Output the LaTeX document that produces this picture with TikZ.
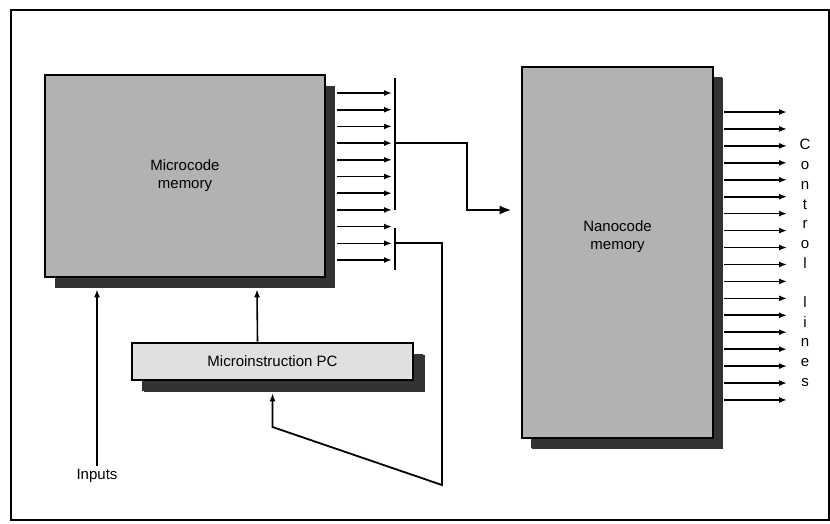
\documentclass[tikz,border=0pt]{standalone}
\usepackage{fontspec}
\setmainfont{Liberation Sans}
\usetikzlibrary{arrows.meta,positioning,shadows,calc}

\begin{document}
\begin{tikzpicture}[x=1pt, y=-1pt, every node/.style={font=\fontsize{15}{18}\selectfont}, mem/.style={rectangle, draw=black, line width=2.6pt, fill=black!30, align=center, drop shadow={shadow xshift=10pt, shadow yshift=-11pt, fill=black!80, opacity=1}}, pcbox/.style={mem, fill=black!12, drop shadow={shadow xshift=12pt, shadow yshift=-12pt, fill=black!80, opacity=1}}, arrow/.style={-{Latex[length=8pt,width=6pt]}, line width=1.6pt}, bar/.style={line width=2.2pt}, bus/.style={-{Latex[length=12pt,width=9pt]}, line width=2.6pt}, fbus/.style={-{Latex[length=8pt,width=6pt]}, line width=1.8pt}]
\useasboundingbox (0,0) rectangle (830,523);
\draw[line width=2.4pt] (11,10) rectangle (829,520);
\node[mem, minimum width=280pt, minimum height=202pt] (micro) at (185,176) {Microcode\\memory};
\node[mem, minimum width=191pt, minimum height=371pt, drop shadow={shadow xshift=9pt, shadow yshift=-10pt, fill=black!80, opacity=1}] (nano) at (617.5,252.5) {Nanocode\\memory\\[16pt]};
\node[pcbox, minimum width=281pt, minimum height=37pt] (pc) at (272.5,361.5) {Microinstruction PC};
\node (inp) at (97,476) {Inputs};
\node[align=center, font=\fontsize{15}{19.7}\selectfont] (ctl) at (805,263) {C\\o\\n\\t\\r\\o\\l\\[19.7pt]l\\i\\n\\e\\s};
\foreach \i in {0,...,10} {
  \coordinate (mo\i) at (392,93+16.7*\i);
  \draw[arrow] ([xshift=11pt]micro.east |- mo\i) -- (mo\i);
}
\foreach \i in {0,...,17} {
  \coordinate (no\i) at (787,112+16.94*\i);
  \draw[arrow] ([xshift=10pt]nano.east |- no\i) -- (no\i);
}
\coordinate (b1top) at (395,78);
\coordinate (b1bot) at (395,210);
\coordinate (b2top) at (395,228);
\coordinate (b2bot) at (395,270);
\draw[bar] (b1top) -- (b1bot);
\draw[bar] (b2top) -- (b2bot);
\draw[bus, shorten >=9pt] (b1top |- 0,143) -- (467,143) |- (nano.west |- 0,210);
\draw[fbus] (b2top |- 0,243) -- (442,243) -- (442,485) -- (pc.south |- 0,427) -- ($(pc.south)+(0,12)$);
\draw[arrow] ([xshift=-15pt]pc.north) -- ($(pc.north -| 257,0)!1!(micro.south -| 257,0)+(0,11)$);
\draw[arrow] (inp.north) -- ($(inp.north |- micro.south)+(0,11)$);
\end{tikzpicture}
\end{document}
